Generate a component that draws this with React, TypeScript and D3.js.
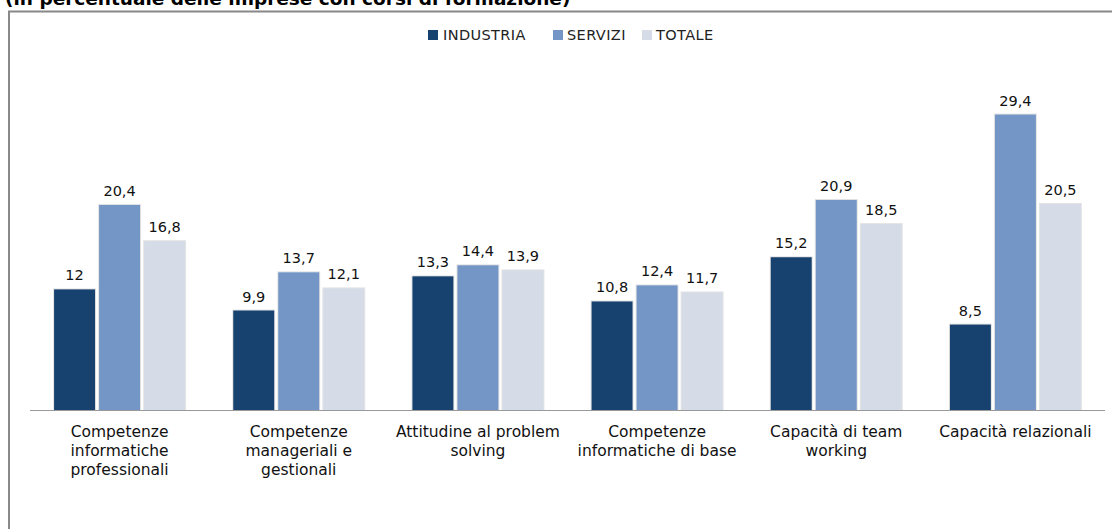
import React from "react";
import * as d3 from "d3";

const categories: string[][] = [
  ["Competenze", "informatiche", "professionali"],
  ["Competenze", "manageriali e", "gestionali"],
  ["Attitudine al problem", "solving"],
  ["Competenze", "informatiche di base"],
  ["Capacità di team", "working"],
  ["Capacità relazionali"],
];
const seriesNames = ["INDUSTRIA", "SERVIZI", "TOTALE"];
const industria = [12, 9.9, 13.3, 10.8, 15.2, 8.5];
const servizi = [20.4, 13.7, 14.4, 12.4, 20.9, 29.4];
const totale = [16.8, 12.1, 13.9, 11.7, 18.5, 20.5];
const colors = ["#17426F", "#7396C6", "#D5DCE8"];
const title = "(in percentuale delle imprese con corsi di formazione)";

const W = 1112;
const H = 529;

export default function App() {
  const values = [industria, servizi, totale];
  const baseY = 410;
  const y = d3.scaleLinear().domain([0, 35]).range([baseY, baseY - 35 * 10.05]);
  const x0 = d3.scaleBand<number>().domain(d3.range(categories.length)).range([30, 1105]).paddingInner(0).paddingOuter(0);
  const groupW = 131;
  const x1 = d3.scaleBand<number>().domain([0, 1, 2]).range([0, groupW]).paddingInner(0.09).paddingOuter(0);
  const fmt = (v: number) => String(v).replace(".", ",");
  const font = "'DejaVu Sans', sans-serif";

  const legendItems = [
    { x: 428, tx: 443 },
    { x: 553, tx: 567 },
    { x: 642, tx: 656 },
  ];

  return (
    <svg width={W} height={H} style={{ position: "absolute", left: 0, top: 0 }} fontFamily={font}>
      <rect x={0} y={0} width={W} height={H} fill="#fff" />
      <text x={5} y={5} fontSize={18.5} fontWeight="bold" fill="#000">{title}</text>
      <path d={`M9,${H + 5} V11.5 H${W + 5}`} fill="none" stroke="#888" strokeWidth={2} />
      {seriesNames.map((s, i) => (
        <g key={s}>
          <rect x={legendItems[i].x} y={30} width={10} height={10} fill={colors[i]} />
          <text x={legendItems[i].tx} y={40} fontSize={14.5} letterSpacing={0.4} fill="#222">{s}</text>
        </g>
      ))}
      {categories.map((cat, ci) => {
        const gx = (x0(ci) as number) + (x0.bandwidth() - groupW) / 2;
        return (
          <g key={ci}>
            {values.map((arr, si) => {
              const bx = gx + (x1(si) as number);
              const by = y(arr[ci]);
              return (
                <g key={si}>
                  <rect x={bx - 1} y={by - 1} width={x1.bandwidth() + 2} height={baseY - by + 1} fill="#e4e4e4" />
                  <rect x={bx} y={by} width={x1.bandwidth()} height={baseY - by} fill={colors[si]} />
                  <text x={bx + x1.bandwidth() / 2} y={by - 9} fontSize={14.5} textAnchor="middle" fill="#111">{fmt(arr[ci])}</text>
                </g>
              );
            })}
            {cat.map((line, li) => (
              <text key={li} x={(x0(ci) as number) + x0.bandwidth() / 2} y={437 + li * 19} fontSize={15.5} textAnchor="middle" fill="#111">{line}</text>
            ))}
          </g>
        );
      })}
      <line x1={30} x2={1105} y1={baseY + 0.5} y2={baseY + 0.5} stroke="#999" strokeWidth={1} />
    </svg>
  );
}
